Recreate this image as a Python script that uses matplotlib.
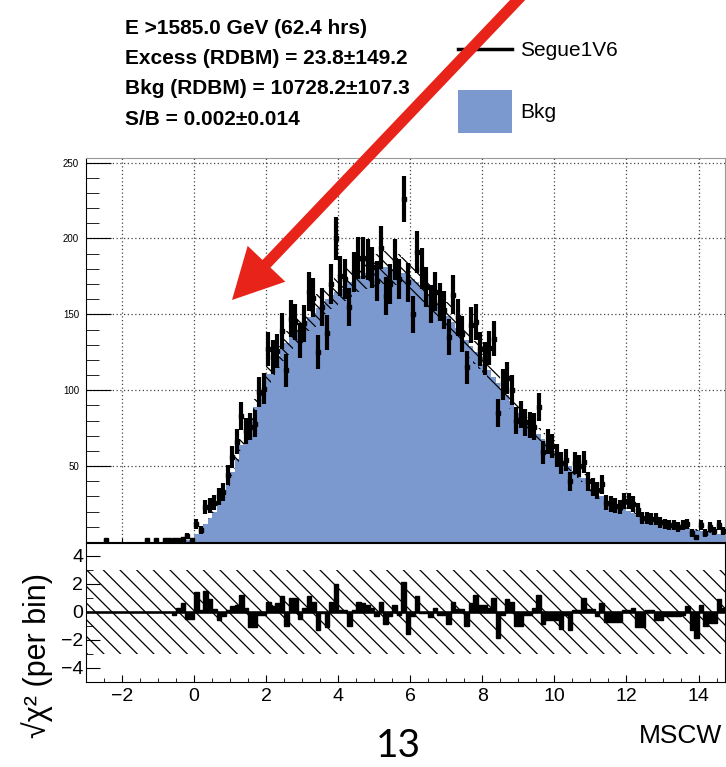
import numpy as np
import matplotlib
matplotlib.use("Agg")
import matplotlib.pyplot as plt
from matplotlib.lines import Line2D
from matplotlib.patches import Rectangle, FancyArrow

plt.rcParams["font.family"] = ["Liberation Sans", "DejaVu Sans"]
plt.rcParams["hatch.linewidth"] = 0.9
plt.rcParams["hatch.color"] = "black"

# MSCW binning: 0.125 wide bins from -3 to 14.75
bin_edges = np.arange(-3.0, 14.75 + 1e-9, 0.125)

# observed counts per bin (Segue1V6)
counts = [
    0, 0, 0, 0, 1, 0, 0, 0, 0, 0, 0, 0,
    0, 1, 0, 1, 0, 1, 1, 1, 1, 2, 4, 1,
    12, 8, 23, 24, 26, 30, 33, 44, 56, 66, 83, 73,
    76, 78, 99, 101, 127, 122, 126, 139, 113, 147, 145, 133,
    144, 165, 161, 125, 155, 138, 170, 200, 175, 173, 155, 178,
    187, 187, 186, 181, 172, 194, 162, 170, 186, 173, 226, 171,
    150, 191, 180, 168, 157, 165, 158, 153, 135, 163, 148, 137,
    115, 143, 145, 127, 121, 128, 134, 85, 104, 108, 100, 80,
    84, 79, 77, 76, 89, 59, 66, 63, 57, 52, 54, 40,
    52, 50, 53, 40, 36, 34, 38, 26, 25, 24, 23, 27,
    27, 25, 21, 16, 16, 15, 15, 13, 12, 11, 11, 10,
    11, 12, 6, 3, 11, 6, 10, 7, 11, 7,
]

# background model (RDBM) per bin
bkg = [
    0, 0, 0, 0, 0, 0, 0, 0, 0, 0, 0, 0,
    0, 0, 0, 0, 0, 0, 0, 0.3, 0.5, 0.8, 1, 1.5,
    5, 8, 12, 16, 20, 25, 31, 38, 46, 55, 64, 73,
    81, 89, 97, 104, 111, 117, 122, 127, 131, 135, 139, 142,
    145, 148, 151, 154, 157, 160, 163, 165, 167, 169, 171, 173,
    175, 176, 177, 178, 179, 180, 181, 181, 180, 179, 177, 175,
    173, 171, 168, 165, 162, 159, 156, 152, 149, 145, 141, 137,
    133, 129, 125, 121, 117, 113, 109, 105, 101, 97, 93, 89,
    85, 82, 78, 75, 71, 68, 65, 62, 59, 56, 53, 50,
    47, 45, 42, 38, 35, 32, 30, 28, 26, 24.5, 23, 22,
    20.5, 19, 18, 17, 16, 15, 14, 13, 12, 11, 10.5, 10,
    9.5, 9, 8.5, 8, 7.5, 7, 6.5, 6, 5.5, 5,
]
bkg_rel_err = 0.06

# signed sqrt(chi2) per bin
resid = [
    0, 0, 0, 0, 0, 0, 0, 0, 0, 0, 0, 0,
    0, 0, 0, 0, 0, 0, 0, -0.2, 0.3, 0.6, -0.5, -0.5,
    1.4, 0.1, 1.5, 0.9, 0.2, -0.6, -0.3, 0.1, 0.4, 0.5, 1.2, 0.3,
    -1.1, -1.1, -0.2, -0.2, 0.7, 0.4, 0.6, 1.1, -1.0, 1.0, 1.0, -0.5,
    0.3, 1.1, 0.7, -1.3, -0.1, -1.1, 0.7, 2.0, 0.1, 0.1, -1.0, 0.1,
    0.7, 0.6, 0.5, 0.3, -0.3, 0.7, -0.9, -0.3, 0.5, -0.2, 2.1, -1.6,
    -0.3, 1.1, -0.1, -0.1, -0.4, 0.3, -0.2, -0.2, -0.9, 0.7, 0.2, 0.2,
    -1.0, 0.6, 1.2, 0.5, 0.5, 0.3, 1.0, -1.9, -0.2, 0.9, 0.7, -1.0,
    -1.0, -0.2, -0.2, 0.3, 1.2, -0.9, -0.6, -0.6, -0.6, -1.2, -0.2, -1.3,
    0.1, 0.1, 1.0, 0.2, 0.2, -0.3, 0.6, -0.7, -0.7, -0.7, -0.7, 0.1,
    0.1, 0.3, -1.1, -1.1, 0.1, 0.1, -0.6, -0.6, -0.3, -0.3, -0.3, -0.3,
    -0.2, 0.4, -1.3, -1.9, 0.5, -1.0, -0.8, -0.8, 0.9, 0.3,
]

stats_lines = [
    "E >1585.0 GeV (62.4 hrs)",
    "Excess (RDBM) = 23.8\u00b1149.2",
    "Bkg (RDBM) = 10728.2\u00b1107.3",
    "S/B = 0.002\u00b10.014",
]

BLUE = "#7b99cf"
RED = "#e8231a"
W, H = 726, 767

counts = np.array(counts, dtype=float)
bkg = np.array(bkg, dtype=float)
resid = np.array(resid, dtype=float)
centers = 0.5 * (bin_edges[:-1] + bin_edges[1:])

fig = plt.figure(figsize=(W / 100, H / 100), dpi=100)

# ---- main panel
ax = fig.add_axes([86 / W, 1 - 542 / H, 638.5 / W, 384 / H])
ax.set_axisbelow(True)
ax.grid(True, linestyle=(0, (1, 2)), color="#444444", linewidth=0.9)
ax.stairs(bkg, bin_edges, fill=True, color=BLUE, zorder=2)
err = bkg * bkg_rel_err
ax.stairs(bkg + err, bin_edges, baseline=bkg - err, fill=True,
          facecolor="none", edgecolor="black", linewidth=0,
          hatch="\\\\\\", zorder=3)
sel = counts > 0
ax.errorbar(centers[sel], counts[sel], yerr=np.sqrt(counts[sel]),
            fmt="s", ms=3, color="black", elinewidth=3.0, capsize=0,
            zorder=4)
ax.set_xlim(-3, 14.72)
ax.set_ylim(0, 253)
ax.set_yticks([50, 100, 150, 200, 250])
ax.set_yticks(np.arange(10, 251, 10), minor=True)
ax.set_xticks(np.arange(-2, 15, 2))
ax.tick_params(axis="y", which="major", direction="in", length=18,
               labelsize=7, pad=5)
ax.tick_params(axis="y", which="minor", direction="in", length=9)
ax.tick_params(axis="x", direction="in", length=3, labelbottom=False)
for s in ("top", "right"):
    ax.spines[s].set_color("#999999")

# ---- residual panel
rx = fig.add_axes([86 / W, 1 - 682 / H, 638.5 / W, 139 / H])
rx.fill_between([-3, 14.72], -3, 3, facecolor="none", edgecolor="black",
                linewidth=0, hatch="\\\\")
rx.hlines(0, -3, 14.72, color="black", linewidth=1.8)
rx.bar(centers, resid, width=0.125, color="black", edgecolor="black",
       linewidth=1.0)
rx.set_xlim(-3, 14.72)
rx.set_ylim(-5, 4.9)
rx.set_yticks([-4, -2, 0, 2, 4])
rx.set_yticks(np.arange(-4, 5, 1), minor=True)
rx.set_yticklabels(["\u22124", "\u22122", "0", "2", "4"])
rx.set_xticks(np.arange(-2, 15, 2))
rx.set_xticks(np.arange(-3, 14.8, 0.5), minor=True)
rx.set_xticklabels(["\u22122", "0", "2", "4", "6", "8", "10", "12", "14"])
rx.tick_params(axis="both", which="major", direction="in", labelsize=14)
rx.tick_params(axis="y", which="major", length=10, pad=2)
rx.tick_params(axis="y", which="minor", direction="in", length=5)
rx.tick_params(axis="x", which="major", length=5, pad=4)
rx.tick_params(axis="x", which="minor", direction="in", length=3)

fig.text(37 / W, 1 - 655 / H, "\u221a\u03c7\u00b2 (per bin)", fontsize=22,
         rotation=90, ha="center", va="center")
fig.text(722 / W, 1 - 736 / H, "MSCW", fontsize=19, ha="right", va="center")
fig.text(398 / W, 1 - 746 / H, "13", fontsize=28, ha="center",
         va="center", family=["Lato", "DejaVu Sans"])

# ---- stats box
for i, line in enumerate(stats_lines):
    fig.text(125 / W, 1 - (28 + 30.5 * i) / H, line, fontsize=15,
             fontweight="bold", ha="left", va="center")

# ---- legend
fig.add_artist(Line2D([458 / W, 512 / W], [1 - 49 / H, 1 - 49 / H],
                      color="black", linewidth=2.5))
fig.text(520 / W, 1 - 50 / H, "Segue1V6", fontsize=15, va="center")
fig.add_artist(Rectangle((458 / W, 1 - 133 / H), 54 / W, 43 / H,
                         facecolor=BLUE, edgecolor="none",
                         transform=fig.transFigure))
fig.text(520 / W, 1 - 113 / H, "Bkg", fontsize=15, va="center")

# ---- red arrow (inches, keeps aspect)
x0, y0 = 5.3, (H + 13) / 100
x1, y1 = 2.32, (H - 300) / 100
fig.add_artist(FancyArrow(x0, y0, x1 - x0, y1 - y0, width=0.11,
                          head_width=0.52, head_length=0.5,
                          length_includes_head=True, color=RED,
                          linewidth=0, transform=fig.dpi_scale_trans,
                          zorder=10))

fig.savefig("out.png", dpi=100)
